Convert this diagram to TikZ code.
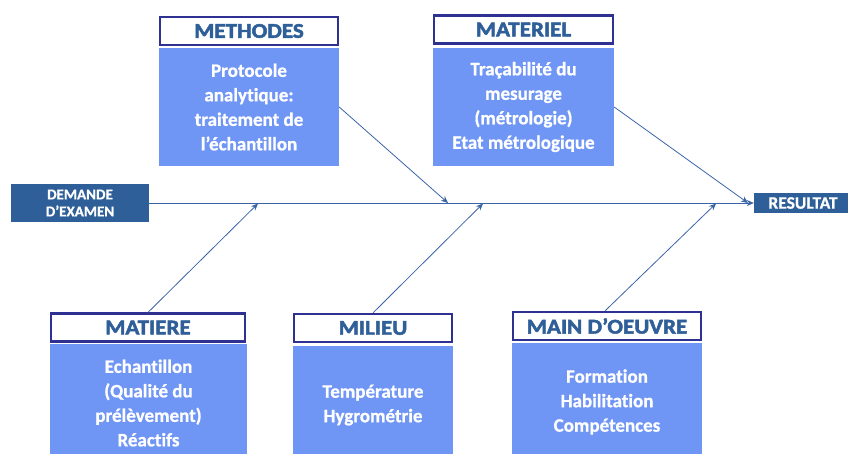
\documentclass[tikz,border=0pt]{standalone}
\usepackage{fontspec}
\usepackage{graphicx}
\setmainfont{Carlito}[Ligatures=NoCommon]
\newfontfamily\heavyfont{Carlito}[Ligatures=NoCommon, BoldFeatures={FakeBold=2.2}]
\newfontfamily\bodyfont{Carlito}[Ligatures=NoCommon, BoldFeatures={FakeBold=0.8}]
\usetikzlibrary{arrows.meta}
\definecolor{darkb}{RGB}{47,95,152}
\definecolor{navyb}{RGB}{46,49,146}
\definecolor{lightb}{RGB}{112,150,245}
\definecolor{arrowc}{RGB}{58,100,168}
\newcommand{\ttlx}[1]{\scalebox{1.1}[1]{#1}}
\begin{document}
\begin{tikzpicture}[x=1pt,y=-1pt,
  titlebox/.style={draw=navyb, line width=2.2pt, fill=white, text=darkb,
    font=\fontsize{21}{21}\selectfont\heavyfont\bfseries, minimum width=#1, minimum height=28pt, inner sep=0pt},
  contentbox/.style={fill=lightb, text=white, font=\fontsize{19}{24.5}\selectfont\bodyfont\bfseries,
    align=center, minimum width=#1, minimum height=118pt, inner sep=0pt},
  endbox/.style={fill=darkb, text=white, align=center, inner sep=0pt},
  conn/.style={draw=arrowc, line width=0.8pt, -{Stealth[length=7pt,width=6pt]}}
]
\useasboundingbox (0,0) rectangle (848,453);
\clip (0,0) rectangle (848,453);

% end boxes
\node[endbox, minimum width=138pt, minimum height=38pt,
  font=\fontsize{15}{17}\selectfont\bodyfont\bfseries] (dem) at (80,203) {DEMANDE\\D’EXAMEN};
\node[endbox, minimum width=98pt, minimum height=20pt,
  font=\fontsize{17.5}{17.5}\selectfont\bodyfont\bfseries] (res) at (803,203) {RESULTAT};

% top categories
\node[titlebox=178pt] (methT) at (249,31) {\ttlx{METHODES}};
\node[contentbox=180pt] (methC) at (249,107) {Protocole\\analytique:\\traitement de\\l’échantillon};
\node[titlebox=179pt] (matT) at (523.5,29.5) {\ttlx{MATERIEL}};
\node[contentbox=181pt] (matC) at (523.5,107) {Traçabilité du\\mesurage\\(métrologie)\\Etat métrologique};

% bottom categories
\node[titlebox=194pt] (matiT) at (148,327.5) {\ttlx{MATIERE}};
\node[contentbox=197pt] (matiC) at (148.5,403) {Echantillon\\(Qualité du\\prélèvement)\\Réactifs};
\node[titlebox=158pt] (milT) at (373,328) {\ttlx{MILIEU}};
\node[contentbox=160pt] (milC) at (373,405) {Température\\Hygrométrie};
\node[titlebox=188pt] (mainT) at (607,326) {\ttlx{MAIN D’OEUVRE}};
\node[contentbox=190pt] (mainC) at (607,402) {Formation\\Habilitation\\Compétences};

% spine points
\coordinate (p1) at (448,203);
\coordinate (p2) at (748,203);
\coordinate (q1) at (258,203.5);
\coordinate (q2) at (483,203.5);
\coordinate (q3) at (716,203.5);

% connectors
\draw[conn] (dem.east) -- (res.west);
\draw[conn] (methC.east) -- (p1);
\draw[conn] (matC.east) -- (p2);
\draw[conn] (matiT.north) -- (q1);
\draw[conn] (milT.north) -- (q2);
\draw[conn] ([xshift=-2pt]mainT.north) -- (q3);
\end{tikzpicture}
\end{document}
